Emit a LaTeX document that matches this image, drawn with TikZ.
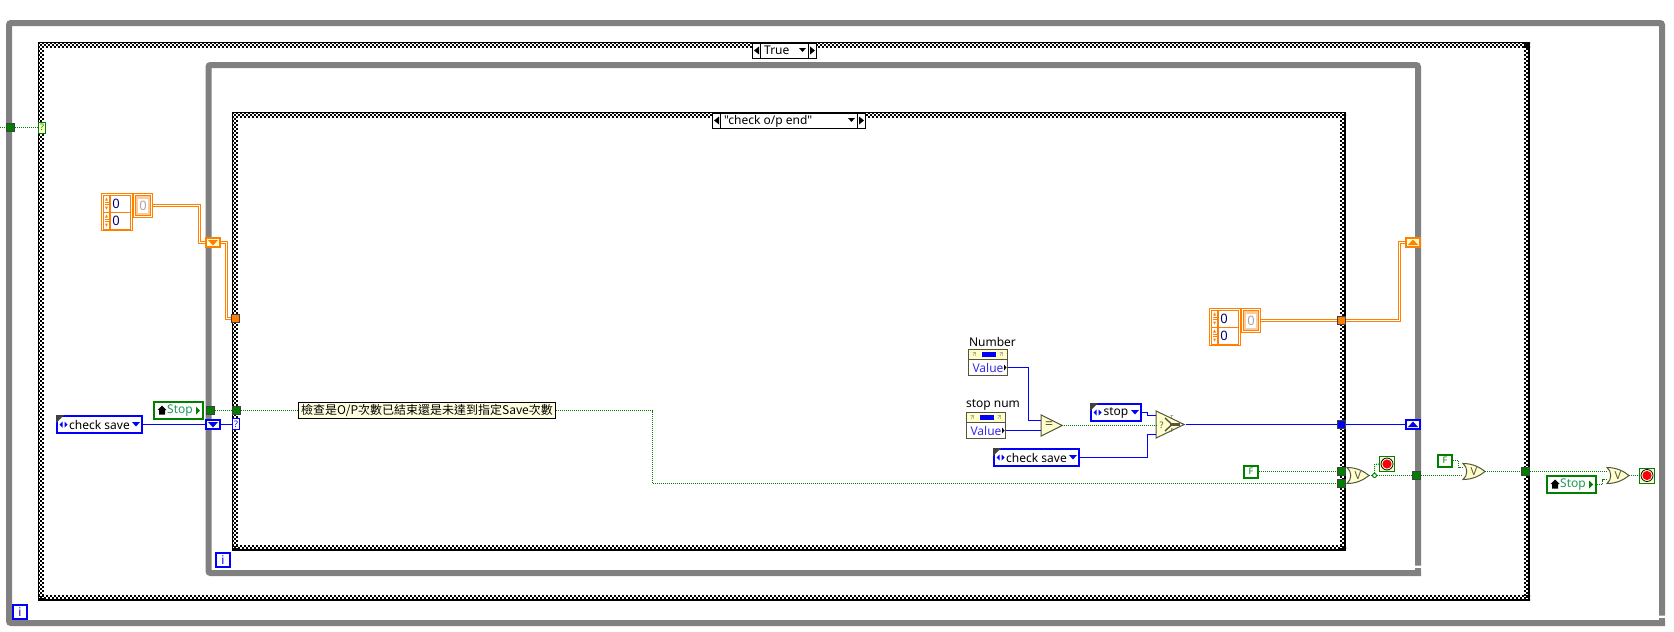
\documentclass[tikz,border=0pt]{standalone}
\usepackage{fontspec}
\setmainfont{Noto Sans}
\newfontfamily\rawfont{Noto Sans}
\newfontfamily\cjk{Noto Sans CJK TC}
\usetikzlibrary{shapes,calc,arrows.meta}

\definecolor{loopgray}{HTML}{808080}
\definecolor{boolgreen}{HTML}{007F00}
\definecolor{enumblue}{HTML}{0000FF}
\definecolor{clusterorange}{HTML}{FF7F00}
\definecolor{primfill}{HTML}{FFFFCC}
\definecolor{primedge}{HTML}{55553F}
\definecolor{tunneledge}{HTML}{404040}
\definecolor{peach}{HTML}{FFCC99}
\definecolor{valueink}{HTML}{3A2FE0}
\definecolor{stopink}{HTML}{1F9A55}

\tikzset{
    lvtext/.style={inner sep=0pt, font=\fontsize{12}{12}\selectfont},
    loopframe/.style={draw=loopgray, line width=6pt, rounded corners=2pt},
    checkstrip/.style={draw=black, line width=2pt, dash pattern=on 2pt off 2pt},
    tunnel/.style={draw=tunneledge, line width=1pt, minimum size=8pt, inner sep=0pt},
    boolwire/.style={draw=boolgreen, line width=1pt, dash pattern=on 1pt off 1pt},
    enumwire/.style={draw=enumblue, line width=1pt},
    clusterwire/.style={draw=clusterorange, line width=1pt, double=white, double distance=1pt},
    shiftreg/.style={line width=2pt, fill=primfill, minimum width=14pt, minimum height=9pt, inner sep=0pt},
    iterbox/.style={lvtext, draw=enumblue, fill=white, line width=2pt, text=enumblue, minimum size=14pt, font=\fontsize{12}{12}\selectfont\bfseries},
    selector/.style={lvtext, fill=primfill, line width=1pt, minimum width=7pt, minimum height=11pt, font=\fontsize{9}{9}\selectfont},
    enumbox/.style={lvtext, draw=enumblue, fill=white, line width=2pt, minimum height=17pt},
    localvar/.style={lvtext, draw=boolgreen, fill=white, line width=2pt, minimum width=49pt, minimum height=17pt, text=stopink},
    boolconst/.style={draw=boolgreen, fill=white, line width=2pt, inner sep=0pt, minimum width=14pt, minimum height=12pt, text=boolgreen, font=\fontsize{9}{9}\selectfont\bfseries},
    stopterm/.style={draw=boolgreen, fill=primfill, line width=1pt, minimum size=15pt, inner sep=0pt},
    primtri/.style={isosceles triangle, isosceles triangle stretches, draw=primedge, fill=primfill, line width=1pt, inner sep=0pt, anchor=apex},
    caselabel/.style={draw=black, fill=white, line width=1pt, inner sep=0pt, minimum height=15pt},
    gateshape/.style={draw=primedge, fill=primfill, line width=1pt},
    gatetext/.style={inner sep=0pt, minimum width=22pt, minimum height=16pt, text=primedge, font=\fontsize{11}{11}\selectfont\bfseries},
    tinytext/.style={inner sep=0pt, font=\fontsize{5.5}{5.5}\selectfont\bfseries},
}

% hatched case frame: left, top, right, bottom
\newcommand{\caseframe}[4]{
    \foreach \off/\ph in {1/0,3/2,5/0} {
        \draw[checkstrip, dash phase=\ph pt] (#1,#2+\off) -- (#3,#2+\off);
        \draw[checkstrip, dash phase=\ph pt] (#1,#4-\off) -- (#3,#4-\off);
        \draw[checkstrip, dash phase=\ph pt] (#1+\off,#2) -- (#1+\off,#4);
        \draw[checkstrip, dash phase=\ph pt] (#3-\off,#2) -- (#3-\off,#4);
    }
    \draw[black, line width=1pt] (#1+0.5,#2+0.5) rectangle (#3-0.5,#4-0.5);
    \draw[black, line width=2pt] (#1,#4-1) -- (#3-1,#4-1) -- (#3-1,#2);
}
% shift register: name, x, y, colour, direction
\newcommand{\shiftbox}[5]{
    \node[shiftreg, draw=#4] (#1) at (#2,#3) {};
    \fill[#4] ($(#1)+(-5,-2.5*#5)$) -- ($(#1)+(5,-2.5*#5)$) -- ($(#1)+(0,3*#5)$) -- cycle;
}
% enum constant: name, x, y, width, text
\newcommand{\enumconst}[5]{
    \pgfmathsetmacro{\halfw}{#4/2}
    \node[enumbox, minimum width=#4pt] (#1) at (#2,#3) {#5\hspace{3pt}};
    \begin{scope}[shift={(#2,#3)}]
        \fill[tunneledge] (-\halfw-1,-9.5) -- (-\halfw+7,-9.5) -- (-\halfw-1,-1.5) -- cycle;
        \fill[enumblue] (-\halfw+2.5,0) -- (-\halfw+5.5,-3) -- (-\halfw+5.5,3) -- cycle;
        \fill[enumblue] (-\halfw+10.5,0) -- (-\halfw+7.5,-3) -- (-\halfw+7.5,3) -- cycle;
        \fill[enumblue] (\halfw-10,-2.5) -- (\halfw-2,-2.5) -- (\halfw-6,2) -- cycle;
    \end{scope}
}
% stop local variable: name, x, y
\newcommand{\stopvar}[3]{
    \node[localvar] (#1) at (#2,#3) {\hspace{3pt}Stop};
    \begin{scope}[shift={(#2,#3)}]
        \fill[black] (-21,-0.5) -- (-16.5,-5) -- (-12,-0.5) -- (-13.5,-0.5) -- (-13.5,4) -- (-19.5,4) -- (-19.5,-0.5) -- cycle;
        \fill[boolgreen] (17.5,-4) -- (21.5,0) -- (17.5,4) -- cycle;
    \end{scope}
}
% stop terminal: name, x, y
\newcommand{\stopsign}[3]{
    \node[stopterm] (#1) at (#2,#3) {};
    \draw[black, fill=white, line width=0.8pt] (#2,#3) circle (6pt);
    \fill[red] (#2,#3) circle (4.6pt);
}
% OR gate: name, left x, centre y
\newcommand{\orgate}[3]{
    \begin{scope}[shift={(#2,#3)}]
        \draw[gateshape] (0,-8) .. controls (10,-8) and (17,-4) .. (22,0) .. controls (17,4) and (10,8) .. (0,8) .. controls (5,4) and (5,-4) .. (0,-8) -- cycle;
        \node[gatetext] (#1) at (11,0) {V};
    \end{scope}
}
% cluster constant: name, left x, top y
\newcommand{\clusterconst}[3]{
    \begin{scope}[shift={(#2,#3)}]
        \draw[clusterorange, line width=1pt] (0.5,0.5) rectangle (31.5,37.5);
        \node[draw=clusterorange, line width=1pt, inner sep=0pt, minimum width=27pt, minimum height=17pt, lvtext] (#1a) at (16,10.5) {};
        \node[draw=clusterorange, line width=1pt, inner sep=0pt, minimum width=27pt, minimum height=17pt, lvtext] (#1b) at (16,27.5) {};
        \draw[clusterorange, line width=1.4pt] (9,2) -- (9,36);
        \foreach \rowy in {10.5,27.5} {
            \fill[clusterorange] (4,\rowy-3) -- (7,\rowy-3) -- (5.5,\rowy-6) -- cycle;
            \fill[clusterorange] (4,\rowy+3) -- (7,\rowy+3) -- (5.5,\rowy+6) -- cycle;
            \draw[clusterorange, line width=0.8pt] (3.5,\rowy-1) -- (7.5,\rowy-1) (3.5,\rowy+1) -- (7.5,\rowy+1);
        }
        \node[lvtext, text=blue!45!black, font=\fontsize{13}{13}\selectfont] (#1x) at (15,10.5) {0};
        \node[lvtext, text=blue!45!black, font=\fontsize{13}{13}\selectfont] (#1y) at (15,27.5) {0};
        \node[draw=clusterorange, line width=1pt, minimum width=19pt, minimum height=24pt, inner sep=0pt] (#1r) at (42,12.5) {};
        \draw[clusterorange, fill=peach, line width=1pt] (34.5,2.5) rectangle (49.5,22.5);
        \node[fill=white, text=gray!70!white, inner sep=0pt, minimum width=10pt, minimum height=14pt, font=\fontsize{13}{13}\selectfont] (#1v) at (42,12.5) {0};
    \end{scope}
}
% property node: name, left x, top y
\newcommand{\propnode}[3]{
    \begin{scope}[shift={(#2,#3)}]
        \draw[primedge, fill=primfill, line width=1pt] (0,0) rectangle (39,10);
        \fill[enumblue] (13,2.5) rectangle (27,7.5);
        \node[tinytext, text=primedge] (#1l) at (6,5) {?!};
        \node[tinytext, text=primedge] (#1k) at (33,5) {?!};
        \node[lvtext, draw=primedge, fill=white, line width=1pt, minimum width=39pt, minimum height=16pt, text=valueink] (#1) at (19.5,18) {Value\hspace{4pt}};
        \fill[black] (35.5,15) -- (38,18) -- (35.5,21) -- cycle;
    \end{scope}
}

\begin{document}
\begin{tikzpicture}[x=1pt,y=-1pt]
    \useasboundingbox (0,0) rectangle (1674,632);

    % Outer loop
    \draw[loopframe] (1662,615.5) -- (1662,23) -- (9,23) -- (9,623) -- (1665,623);
    \fill[loopgray] (1659,618) rectangle (1665,626);
    \node[iterbox] (iterOuter) at (20,612) {i};

    % Outer case
    \caseframe{38}{42}{1530}{601}
    \node[caselabel, minimum width=8pt] (trueLeft) at (756.5,50.5) {};
    \node[caselabel, minimum width=48pt] (trueBox) at (784.5,50.5) {};
    \node[caselabel, minimum width=8pt] (trueRight) at (812.5,50.5) {};
    \fill[black] (754,50.5) -- (759,46.5) -- (759,54.5) -- cycle;
    \fill[black] (815,50.5) -- (810,46.5) -- (810,54.5) -- cycle;
    \fill[black] (799,48) -- (806,48) -- (802.5,52) -- cycle;
    \node[lvtext, anchor=west, text height=9pt, text depth=2pt] (trueText) at (764,50.5) {True};

    % Inner loop
    \draw[loopframe] (1418,565.5) -- (1418,65) -- (208.5,65) -- (208.5,573) -- (1421,573);
    \fill[loopgray] (1415,568) rectangle (1421,576);
    \node[iterbox] (iterInner) at (223,560) {i};

    % Inner case
    \caseframe{232}{112}{1346}{551}
    \node[caselabel, minimum width=8pt] (checkLeft) at (716.5,120.5) {};
    \node[caselabel, minimum width=137pt] (checkBox) at (789,120.5) {};
    \node[caselabel, minimum width=8pt] (checkRight) at (861.5,120.5) {};
    \fill[black] (714,120.5) -- (719,116.5) -- (719,124.5) -- cycle;
    \fill[black] (864,120.5) -- (859,116.5) -- (859,124.5) -- cycle;
    \fill[black] (848,118) -- (855,118) -- (851.5,122) -- cycle;
    \node[lvtext, anchor=west, text height=9pt, text depth=2pt, font=\fontsize{12}{12}\rawfont] (checkText) at (724,120.5) {"check o/p end"};

    % Tunnels
    \coordinate (leftEnd) at (0,127.5);
    \node[tunnel, fill=boolgreen] (tunnelA) at (10.5,127.5) {};
    \node[selector, draw=boolgreen, text=boolgreen] (selectorA) at (42,127.5) {?};
    \node[tunnel, fill=boolgreen] (tunnelB) at (210,410.5) {};
    \node[tunnel, fill=boolgreen] (tunnelC) at (236.5,410.5) {};
    \node[tunnel, fill=clusterorange] (tunnelD) at (235.5,318.5) {};
    \node[tunnel, fill=clusterorange] (tunnelE) at (1341.5,320.5) {};
    \node[tunnel, fill=enumblue] (tunnelF) at (1341.5,424.5) {};
    \node[tunnel, fill=boolgreen] (tunnelG) at (1341.5,471.5) {};
    \node[tunnel, fill=boolgreen] (tunnelH) at (1341.5,483.5) {};
    \node[tunnel, fill=boolgreen] (tunnelI) at (1416.5,475.5) {};
    \node[tunnel, fill=boolgreen] (tunnelJ) at (1525.5,471.5) {};
    \node[selector, draw=enumblue, text=enumblue, fill=white] (selectorB) at (236,424) {?};

    % Shift registers
    \shiftbox{shiftA}{213}{242.5}{clusterorange}{1}
    \shiftbox{shiftB}{213}{424.5}{enumblue}{1}
    \shiftbox{shiftC}{1413}{242.5}{clusterorange}{-1}
    \shiftbox{shiftD}{1413}{424.5}{enumblue}{-1}

    % Left side
    \clusterconst{clusterA}{101}{193}
    \stopvar{stopA}{178.5}{410.5}
    \enumconst{checkSaveA}{99.5}{424.5}{85}{check save}
    \node[lvtext, draw=black, fill=primfill!60!white, line width=1pt, minimum width=257pt, minimum height=16pt, font=\fontsize{12}{12}\cjk] (commentA) at (427,410.5) {檢查是O/P次數已結束還是未達到指定Save次數};

    % Compare and select
    \node[lvtext] (numberLabel) at (992.5,342) {Number};
    \propnode{numberValue}{968.5}{349.5}
    \node[lvtext] (stopNumLabel) at (993,405) {stop num};
    \propnode{stopNumValue}{966.5}{412.5}
    \node[primtri, minimum width=21pt, minimum height=21pt] (equalA) at (1063.5,425.5) {};
    \node[inner sep=0pt, text=primedge, font=\fontsize{14}{14}\selectfont\bfseries] (equalText) at (1049,425.5) {=};
    \node[primtri, minimum width=27pt, minimum height=28pt] (selectA) at (1185.5,424.5) {};
    \draw[primedge, line width=1.4pt] (1165,418) -- (1172,424.5) -- (1165,431);
    \draw[primedge, line width=2.5pt] (1170,424.5) -- (1180,424.5);
    \node[tinytext, text=primedge, font=\fontsize{9}{9}\selectfont\bfseries] (selectQ) at (1161.5,425) {?};
    \node[tinytext, text=primedge] (selectT) at (1172,418) {T};
    \node[tinytext, text=primedge] (selectF) at (1172,431) {F};
    \enumconst{stopEnum}{1116}{412.5}{50}{stop}
    \enumconst{checkSaveB}{1036.5}{457.5}{85}{check save}
    \node[boolconst] (falseA) at (1251,471.5) {F};

    % Right side
    \clusterconst{clusterB}{1209}{308}
    \orgate{orA}{1347}{475.5}
    \node[circle, draw=boolgreen, fill=white, line width=1pt, minimum size=4pt, inner sep=0pt] (junctionA) at (1374.5,475.5) {};
    \stopsign{stopTermA}{1387}{464}
    \node[boolconst] (falseB) at (1445,460.5) {F};
    \orgate{orB}{1463}{471.5}
    \stopvar{stopB}{1571.5}{484.5}
    \orgate{orC}{1607}{475.5}
    \stopsign{stopTermB}{1647}{475.5}

    % Wires
    \draw[boolwire] (leftEnd) -- (tunnelA.west);
    \draw[boolwire] (tunnelA.east) -- (selectorA.west);
    \draw[clusterwire] (clusterAr.east) -- (199.5,205.5) |- (shiftA.west);
    \draw[clusterwire] (shiftA.east) -- (226.5,242.5) |- (tunnelD.west);
    \draw[clusterwire] (clusterBr.east) -- (tunnelE.west);
    \draw[clusterwire] (tunnelE.east) -- (1399.5,320.5) |- (shiftC.west);
    \draw[enumwire] (checkSaveA.east) -- (shiftB.west);
    \draw[enumwire] (shiftB.east) -- (selectorB.west |- shiftB.east);
    \draw[boolwire] (tunnelB.east) -- (tunnelC.west);
    \draw[boolwire] (tunnelC.east) -- (commentA.west);
    \draw[boolwire] (commentA.east) -- (652.5,410.5) |- (tunnelH.west);
    \draw[enumwire] (numberValue.east) -- (1028.5,367.5) |- ($(equalA.lower side)+(0,-5)$);
    \draw[enumwire] (stopNumValue.east) -- (equalA.lower side |- stopNumValue.east);
    \draw[boolwire] (equalA.apex) -- (selectA.lower side |- equalA.apex);
    \draw[enumwire] (stopEnum.east) -- (1147.5,412.5) |- ($(selectA.lower side)+(0,-9)$);
    \draw[enumwire] (checkSaveB.east) -- (1147.5,457.5) |- ($(selectA.lower side)+(0,10)$);
    \draw[enumwire] (selectA.apex) -- (tunnelF.west);
    \draw[enumwire] (tunnelF.east) -- (shiftD.west);
    \draw[boolwire] (falseA.east) -- (tunnelG.west);
    \draw[boolwire] (orA.east) -- (junctionA.west);
    \draw[boolwire] (junctionA.north) -- (1374.5,464.5) -- (stopTermA.west);
    \draw[boolwire] (junctionA.east) -- (tunnelI.west);
    \draw[boolwire] (tunnelI.east) -- (orB.west |- tunnelI.east);
    \draw[boolwire] (falseB.east) -- (1458.5,460.5) |- ($(orB.west)+(0,-4)$);
    \draw[boolwire] (orB.east) -- (tunnelJ.west);
    \draw[boolwire] (tunnelJ.east) -- (orC.west |- tunnelJ.east);
    \draw[boolwire] (stopB.east) -- (1602.5,484.5) |- ($(orC.west)+(0,4)$);
    \draw[boolwire] (orC.east) -- (stopTermB.west);
\end{tikzpicture}
\end{document}
